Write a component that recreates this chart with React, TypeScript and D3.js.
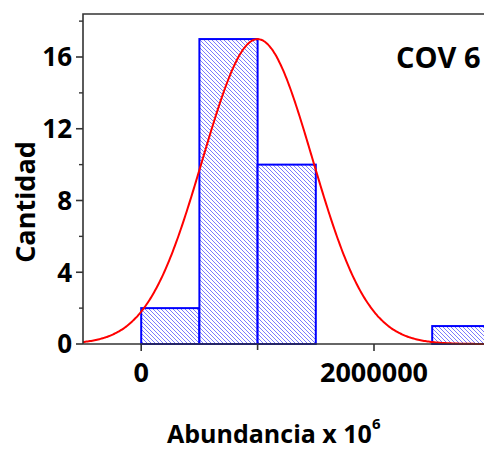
import React, { useEffect, useRef } from 'react';
import * as d3 from 'd3';

// histogram bins (lower edges) and counts
const binStarts = [0, 500000, 1000000, 1500000, 2000000, 2500000];
const binWidth = 500000;
const counts = [2, 17, 10, 0, 0, 1];

// fitted normal curve
const fitMean = 1000000;
const fitSd = 472000;
const fitPeak = 17;

const yMajorTicks = [0, 4, 8, 12, 16];
const yMinorTicks = [2, 6, 10, 14, 18];
const xMajorTicks = [0, 2000000];
const xMinorTicks = [1000000, 3000000];

const chartLabel = 'COV 6';
const yTitle = 'Cantidad';
const xTitle = 'Abundancia x 10';
const xTitleSup = '6';

const W = 484;
const H = 451;
const FONT = '"Open Sans", Lato, sans-serif';

const App = () => {
  const svgRef = useRef<SVGSVGElement>(null);

  useEffect(() => {
    const svg = d3.select(svgRef.current);
    svg.selectAll('*').remove();

    const left = 83;
    const top = 14;
    const bottom = 344;

    const x = d3.scaleLinear().domain([-500000, 2000000]).range([left, 374]);
    const y = d3.scaleLinear().domain([0, 16]).range([bottom, 57]);
    const yTop = y.invert(top);

    const defs = svg.append('defs');
    const pat = defs
      .append('pattern')
      .attr('id', 'hatch')
      .attr('patternUnits', 'userSpaceOnUse')
      .attr('width', 4)
      .attr('height', 4);
    pat.append('rect').attr('width', 4).attr('height', 4).attr('fill', '#fff');
    pat
      .append('path')
      .attr('d', 'M-1,-1 L5,5 M-1,3 L1,5 M3,-1 L5,1')
      .attr('stroke', '#4040ff')
      .attr('stroke-width', 0.7);

    // bars
    svg
      .append('g')
      .selectAll('rect')
      .data(counts.map((c, i) => ({ x0: binStarts[i], c })).filter((d) => d.c > 0))
      .enter()
      .append('rect')
      .attr('x', (d) => x(d.x0))
      .attr('y', (d) => y(d.c))
      .attr('width', (d) => x(d.x0 + binWidth) - x(d.x0))
      .attr('height', (d) => bottom - y(d.c))
      .attr('fill', 'url(#hatch)')
      .attr('stroke', '#0000ff')
      .attr('stroke-width', 2);

    // normal fit
    const xs = d3.range(-500000, 3200001, 10000);
    const line = d3
      .line<number>()
      .x((d) => x(d))
      .y((d) => y(fitPeak * Math.exp(-((d - fitMean) ** 2) / (2 * fitSd * fitSd))))
      .curve(d3.curveBasis);
    svg
      .append('path')
      .datum(xs)
      .attr('d', line)
      .attr('fill', 'none')
      .attr('stroke', '#ff0000')
      .attr('stroke-width', 2);

    const axisColor = '#333';

    // axes frame
    svg
      .append('path')
      .attr('d', `M${left},${bottom} L${left},${y(yTop)} L${W + 5},${y(yTop)}`)
      .attr('fill', 'none')
      .attr('stroke', axisColor)
      .attr('stroke-width', 1.6);
    svg
      .append('line')
      .attr('x1', left)
      .attr('x2', W + 5)
      .attr('y1', bottom)
      .attr('y2', bottom)
      .attr('stroke', axisColor)
      .attr('stroke-width', 1.6);

    // y ticks
    const yAxis = svg.append('g');
    yAxis
      .selectAll('line.maj')
      .data(yMajorTicks)
      .enter()
      .append('line')
      .attr('x1', left - 7)
      .attr('x2', left)
      .attr('y1', (d) => y(d))
      .attr('y2', (d) => y(d))
      .attr('stroke', axisColor)
      .attr('stroke-width', 1.6);
    yAxis
      .selectAll('line.min')
      .data(yMinorTicks)
      .enter()
      .append('line')
      .attr('x1', left - 4)
      .attr('x2', left)
      .attr('y1', (d) => y(d))
      .attr('y2', (d) => y(d))
      .attr('stroke', axisColor)
      .attr('stroke-width', 1.4);
    yAxis
      .selectAll('text')
      .data(yMajorTicks)
      .enter()
      .append('text')
      .attr('x', 72)
      .attr('y', (d) => y(d))
      .attr('dy', '0.36em')
      .attr('text-anchor', 'end')
      .attr('font-family', FONT)
      .attr('font-weight', 'bold')
      .attr('font-size', 26)
      .text((d) => d);

    // x ticks
    const xAxis = svg.append('g');
    xAxis
      .selectAll('line')
      .data([...xMajorTicks, ...xMinorTicks])
      .enter()
      .append('line')
      .attr('x1', (d) => x(d))
      .attr('x2', (d) => x(d))
      .attr('y1', bottom)
      .attr('y2', (d) => (xMajorTicks.includes(d) ? bottom + 7 : bottom + 6))
      .attr('stroke', axisColor)
      .attr('stroke-width', 1.6);
    xAxis
      .selectAll('text')
      .data(xMajorTicks)
      .enter()
      .append('text')
      .attr('x', (d) => x(d))
      .attr('y', 382)
      .attr('text-anchor', 'middle')
      .attr('font-family', FONT)
      .attr('font-weight', 'bold')
      .attr('font-size', 27)
      .text((d) => d);

    // titles
    svg
      .append('text')
      .attr('transform', `translate(35,202) rotate(-90)`)
      .attr('text-anchor', 'middle')
      .attr('font-family', FONT)
      .attr('font-weight', 'bold')
      .attr('font-size', 27)
      .text(yTitle);

    const xt = svg
      .append('text')
      .attr('x', 167)
      .attr('y', 443)
      .attr('font-family', FONT)
      .attr('font-weight', 'bold')
      .attr('font-size', 25);
    xt.append('tspan').text(xTitle);
    xt.append('tspan').attr('dy', -14).attr('font-size', 15).text(xTitleSup);

    svg
      .append('text')
      .attr('x', 396)
      .attr('y', 68)
      .attr('font-family', FONT)
      .attr('font-weight', 'bold')
      .attr('font-size', 29)
      .text(chartLabel);
  }, []);

  return (
    <svg
      ref={svgRef}
      width={W}
      height={H}
      style={{ position: 'absolute', left: 0, top: 0, display: 'block', background: '#fff' }}
    ></svg>
  );
};

export default App;
